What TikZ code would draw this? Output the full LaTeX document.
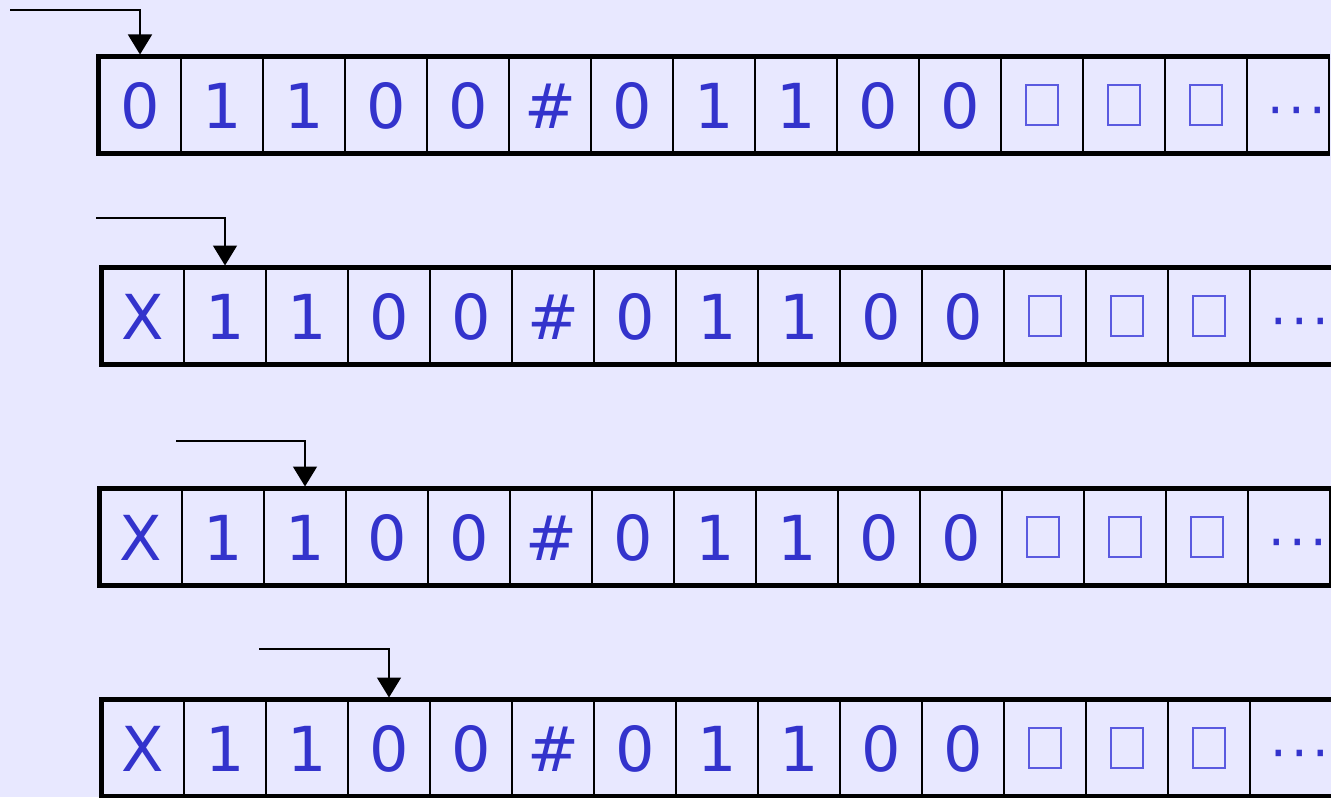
\documentclass[tikz,border=0pt]{standalone}
\usepackage{fontspec}
\setmainfont{DejaVu Sans}
\usetikzlibrary{arrows.meta}
\definecolor{paper}{HTML}{E8E8FF}
\definecolor{ink}{HTML}{3333CC}
\definecolor{blankink}{HTML}{5A5AE0}

\begin{document}
\begin{tikzpicture}[
    x=0.5pt, y=-0.5pt,
    cell/.style={rectangle, draw, line width=1pt, minimum width=41pt, minimum height=47.5pt,
      inner sep=0pt, text=ink, text height=23pt, text depth=0pt, font=\fontsize{31}{31}\selectfont},
    blanksym/.style={rectangle, draw=blankink, line width=0.6pt, minimum width=16pt, minimum height=20pt, inner sep=0pt},
    moresym/.style={inner sep=0pt, text=ink, text height=23pt, text depth=0pt, font=\fontsize{26}{26}\selectfont},
    tapeedge/.style={line width=2.5pt, line join=miter},
    head/.style={-{Triangle[width=12pt,length=10pt]}, line width=0.8pt, shorten >=1pt}
]
  \fill[paper] (0,0) rectangle (1331,797);
  \useasboundingbox (0,0) rectangle (1331,797);

  % the four tapes
  \foreach \t/\lx/\y/\first in {1/99/105/0, 2/102/316/X, 3/100/537/X, 4/102/748/X} {
    \foreach \s [count=\i] in {\first,1,1,0,0,\#,0,1,1,0,0}
      \node[cell] (t\t-\i) at ({\lx+41+82*(\i-1)},\y) {\s};
    \foreach \i in {12,13,14} {
      \node[cell] (t\t-\i) at ({\lx+41+82*(\i-1)},\y) {};
      \node[blanksym] at (t\t-\i) {};
    }
    \node[cell] (t\t-15) at ({\lx+41+82*14},\y) {};
    \node[moresym] at ([xshift=4.5pt]t\t-15.center) {·\hspace{2.2pt}·\hspace{2.2pt}·};
    \draw[tapeedge] (t\t-15.north east) -- (t\t-1.north west) -- (t\t-1.south west) -- (t\t-15.south east);
  }

  % read heads
  \foreach \t/\px/\py in {1/10/10, 2/96/218, 3/176/441, 4/259/649} {
    \coordinate (p\t) at (\px,\py);
    \draw[head] (p\t) -| (t\t-\t.north);
  }
\end{tikzpicture}
\end{document}
